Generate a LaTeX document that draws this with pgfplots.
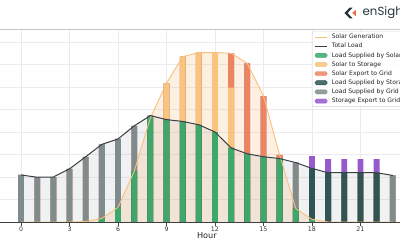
\documentclass[border=0pt]{standalone}
\usepackage{pgfplots}
\pgfplotsset{compat=1.18}
\usepackage{pgfplotstable}
\usepackage{fontspec}
\setmainfont{DejaVu Sans}
\newfontfamily\logofont{Poppins}
\definecolor{cgreen}{RGB}{62,168,106}
\definecolor{cslate}{RGB}{47,85,82}
\definecolor{cgrid}{RGB}{127,140,141}
\definecolor{corange}{RGB}{248,196,126}
\definecolor{csalmon}{RGB}{236,132,96}
\definecolor{cpurple}{RGB}{150,90,205}
\definecolor{csolarline}{RGB}{247,192,125}
\definecolor{csolarfill}{RGB}{250,180,100}
\definecolor{cloadline}{RGB}{55,65,70}
\definecolor{cloadfill}{RGB}{127,140,150}
\definecolor{clogo}{RGB}{35,55,60}
\definecolor{clogoorange}{RGB}{240,110,60}

\pgfplotstableread{
h load solar sload stor grid sstor sexp stexp
0 2.09 0 0 0 2.09 0 0 0
1 1.99 0 0 0 1.99 0 0 0
2 2.00 0 0 0 2.00 0 0 0
3 2.36 0 0 0 2.36 0 0 0
4 2.90 0.02 0.02 0 2.88 0 0 0
5 3.45 0.16 0.16 0 3.29 0 0 0
6 3.69 0.65 0.65 0 3.04 0 0 0
7 4.27 2.25 2.25 0 2.02 0 0 0
8 4.73 4.62 4.62 0 0.11 0 0 0
9 4.55 6.16 4.55 0 0 1.61 0 0
10 4.47 7.35 4.47 0 0 2.88 0 0
11 4.32 7.53 4.32 0 0 3.21 0 0
12 4.00 7.53 4.00 0 0 3.53 0 0
13 3.29 7.50 3.29 0 0 2.68 1.53 0
14 3.03 7.05 3.03 0 0 0 4.02 0
15 2.90 5.60 2.90 0 0 0 2.70 0
16 2.82 2.98 2.82 0 0 0 0.16 0
17 2.64 0.60 0.60 0 2.04 0 0 0
18 2.38 0.12 0.12 2.26 0 0 0 0.55
19 2.19 0 0 2.19 0 0 0 0.60
20 2.19 0 0 2.19 0 0 0 0.60
21 2.19 0 0 2.19 0 0 0 0.60
22 2.19 0 0 2.19 0 0 0 0.60
23 2.07 0 0 0 2.07 0 0 0
}\data

\begin{document}
\begin{tikzpicture}
\useasboundingbox (0bp,0bp) rectangle (400bp,250bp);
\clip (0bp,0bp) rectangle (400bp,250bp);
\begin{axis}[
  at={(-1.1bp,28bp)}, anchor=south west, scale only axis,
  width=416bp, height=192.5bp,
  xmin=-1.37, xmax=24.37, ymin=0, ymax=8.556,
  axis x line*=bottom, axis y line*=left,
  y axis line style={draw=none},
  x axis line style={color=black!75, line width=0.8bp, -},
  xtick={0,3,...,21}, ytick={1,...,8}, yticklabels={},
  xmajorgrids, ymajorgrids,
  grid style={color=black!8, line width=0.5bp},
  tick align=outside, major tick length=3.5bp,
  ytick style={draw=none},
  xtick style={color=black!75, line width=0.6bp},
  tick label style={font=\fontsize{6.3}{7}\selectfont, color=black!80},
  xticklabel style={yshift=2.5bp},
  /pgf/number format/assume math mode=true,
  xlabel={Hour},
  xlabel style={font=\fontsize{8.2}{9}\selectfont, color=black!85, yshift=6bp},
  legend cell align=left,
  legend style={at={(axis description cs:0.7526,0.9896)}, anchor=north west,
    draw=black!18, fill=white, fill opacity=0.85, text opacity=1,
    rounded corners=1.5bp, inner xsep=2.5bp, inner ysep=1.5bp,
    font=\fontsize{6.1}{7}\selectfont, text=black!85,
    row sep=1.35bp,
    nodes={inner sep=1bp, text height=4.5bp, text depth=1.3bp}},
]
% legend entries
\addlegendimage{legend image code/.code={\draw[csolarline, line width=0.9bp] (0bp,0bp) -- (12bp,0bp); \path (15.5bp,0bp);}}
\addlegendentry{Solar Generation}
\addlegendimage{legend image code/.code={\draw[cloadline, line width=0.9bp] (0bp,0bp) -- (12bp,0bp); \path (15.5bp,0bp);}}
\addlegendentry{Total Load}
\addlegendimage{legend image code/.code={\fill[cgreen] (0bp,-2bp) rectangle (12bp,2.2bp); \path (15.5bp,0bp);}}
\addlegendentry{Load Supplied by Solar}
\addlegendimage{legend image code/.code={\fill[corange] (0bp,-2bp) rectangle (12bp,2.2bp); \path (15.5bp,0bp);}}
\addlegendentry{Solar to Storage}
\addlegendimage{legend image code/.code={\fill[csalmon] (0bp,-2bp) rectangle (12bp,2.2bp); \path (15.5bp,0bp);}}
\addlegendentry{Solar Export to Grid}
\addlegendimage{legend image code/.code={\fill[cslate] (0bp,-2bp) rectangle (12bp,2.2bp); \path (15.5bp,0bp);}}
\addlegendentry{Load Supplied by Storage}
\addlegendimage{legend image code/.code={\fill[cgrid] (0bp,-2bp) rectangle (12bp,2.2bp); \path (15.5bp,0bp);}}
\addlegendentry{Load Supplied by Grid}
\addlegendimage{legend image code/.code={\fill[cpurple] (0bp,-2bp) rectangle (12bp,2.2bp); \path (15.5bp,0bp);}}
\addlegendentry{Storage Export to Grid}

% shaded areas
\addplot[fill=cloadfill, fill opacity=0.12, draw=none, forget plot] table[x=h, y=load] \data \closedcycle;
\addplot[fill=csolarfill, fill opacity=0.2, draw=none, forget plot] table[x=h, y=solar] \data \closedcycle;

% stacked bars (drawn from the top of the stack down)
\addplot[ybar, bar width=0.36, bar shift=0pt, fill=cpurple, draw=none, forget plot]
  table[x=h, y expr=\thisrow{load}+\thisrow{sstor}+\thisrow{sexp}+\thisrow{stexp}] \data;
\addplot[ybar, bar width=0.36, bar shift=0pt, fill=csalmon, draw=none, forget plot]
  table[x=h, y expr=\thisrow{load}+\thisrow{sstor}+\thisrow{sexp}] \data;
\addplot[ybar, bar width=0.36, bar shift=0pt, fill=corange, draw=none, forget plot]
  table[x=h, y expr=\thisrow{load}+\thisrow{sstor}] \data;
\addplot[ybar, bar width=0.36, bar shift=0pt, fill=cgrid, draw=none, forget plot]
  table[x=h, y expr=\thisrow{sload}+\thisrow{stor}+\thisrow{grid}] \data;
\addplot[ybar, bar width=0.36, bar shift=0pt, fill=cslate, draw=none, forget plot]
  table[x=h, y expr=\thisrow{sload}+\thisrow{stor}] \data;
\addplot[ybar, bar width=0.36, bar shift=0pt, fill=cgreen, draw=none, forget plot]
  table[x=h, y=sload] \data;

% lines
\addplot[csolarline, line width=0.9bp, forget plot] table[x=h, y=solar] \data;
\addplot[cloadline, line width=1bp, forget plot] table[x=h, y=load] \data;
\end{axis}
% top separator
\draw[black!22, line width=1.5bp] (0bp,220.5bp) -- (400bp,220.5bp);
% logo
\fill[clogo] (344.5bp,237bp) -- (349.6bp,242.4bp) -- (352.6bp,242.4bp) -- (347.6bp,237bp) -- (352.6bp,231.6bp) -- (349.6bp,231.6bp) -- cycle;
\fill[clogoorange] (352.2bp,237bp) -- (355.8bp,240bp) -- (355.8bp,234bp) -- cycle;
\node[anchor=west, inner sep=0pt, text=clogo, font=\logofont\fontsize{11.8}{13}\selectfont] at (362.5bp,237.5bp) {enSight};
\end{tikzpicture}
\end{document}
